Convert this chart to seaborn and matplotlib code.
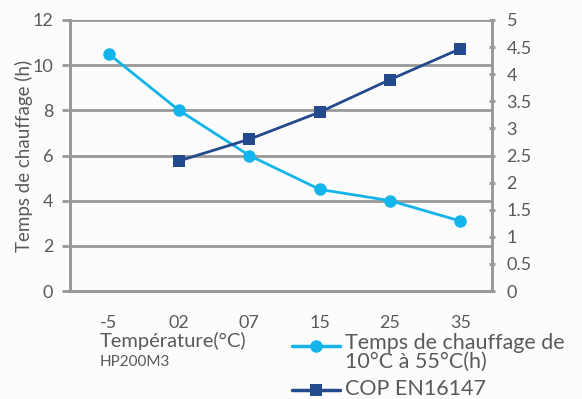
import numpy as np
import pandas as pd
import matplotlib.pyplot as plt
from matplotlib.lines import Line2D
import seaborn as sns

temps = ["-5", "02", "07", "15", "25", "35"]
chauffage = [10.5, 8.0, 6.0, 4.5, 4.0, 3.1]
cop_temps = ["02", "07", "15", "25", "35"]
cop = [2.4, 2.8, 3.3, 3.9, 4.47]

light = "#12b4ea"
dark = "#234a8c"
grey = "#999999"
txt = "#5a5a5a"

sns.set_style("white")
plt.rcParams["font.family"] = ["Lato", "DejaVu Sans"]

df1 = pd.DataFrame({"x": [temps.index(t) for t in temps], "y": chauffage})
df2 = pd.DataFrame({"x": [temps.index(t) for t in cop_temps], "y": cop})

fig = plt.figure(figsize=(5.82, 3.99), dpi=100)
fig.patch.set_facecolor("#fcfcfc")
ax = fig.add_axes([70 / 582, 1 - 291 / 399, 422 / 582, 271 / 399])
ax.set_facecolor("#fcfcfc")
ax2 = ax.twinx()

sns.lineplot(data=df1, x="x", y="y", ax=ax, color=light, lw=2, marker="o",
             markersize=9, markeredgewidth=0, legend=False, zorder=3)
sns.lineplot(data=df2, x="x", y="y", ax=ax2, color=dark, lw=2, marker="s",
             markersize=9, markeredgewidth=0, legend=False)

ax.set_xlim(-0.55, 5.45)
ax.set_ylim(0, 12)
ax2.set_ylim(0, 5)
ax.set_yticks(range(0, 13, 2))
ax2.set_yticks(np.arange(0, 5.01, 0.5))
ax2.set_yticklabels(["0", "0.5", "1", "1.5", "2", "2.5", "3", "3.5", "4", "4.5", "5"])
ax.set_xticks(range(len(temps)))
ax.set_xticklabels(temps)
ax.grid(axis="y", color=grey, lw=2)
ax.set_axisbelow(True)

for a in (ax, ax2):
    for s in a.spines.values():
        s.set_color(grey)
        s.set_linewidth(2)
    a.spines["top"].set_visible(False)

ax.tick_params(axis="y", left=True, length=6, width=2, color=grey, labelcolor=txt, labelsize=13, pad=6)
ax.tick_params(axis="x", bottom=False, labelcolor=txt, labelsize=13, pad=14)
ax2.tick_params(axis="y", right=True, length=5, width=2, color=grey, direction="inout",
                labelcolor=txt, labelsize=13, pad=8)
ax.set_xlabel("")
ax2.set_ylabel("")
ax.set_ylabel("Temps de chauffage (h)", color=txt, fontsize=13.5, labelpad=0)

fig.text(100 / 582, 1 - 341 / 399, "Température(°C)", color=txt, fontsize=14.5, va="center")
fig.text(100 / 582, 1 - 362 / 399, "HP200M3", color=txt, fontsize=11, va="center")

# legend drawn by hand so the first handle sits on the first text line
entries = [(light, "o", "Temps de chauffage de\n10°C à 55°C(h)", 346, 343),
           (dark, "s", "COP EN16147", 390, 389)]
for col, mk, lab, yl, yt in entries:
    yy = 1 - yl / 399
    fig.add_artist(Line2D([292 / 582, 340 / 582], [yy, yy], color=col, lw=2.5,
                          transform=fig.transFigure))
    fig.add_artist(Line2D([316 / 582], [yy], color=col, marker=mk, markersize=9,
                          markeredgewidth=0, transform=fig.transFigure))
    fig.text(345 / 582, 1 - (yt - 10) / 399, lab, color=txt, fontsize=15.5, va="top",
             linespacing=0.9)

fig.savefig("out.png", dpi=100, facecolor=fig.get_facecolor())
